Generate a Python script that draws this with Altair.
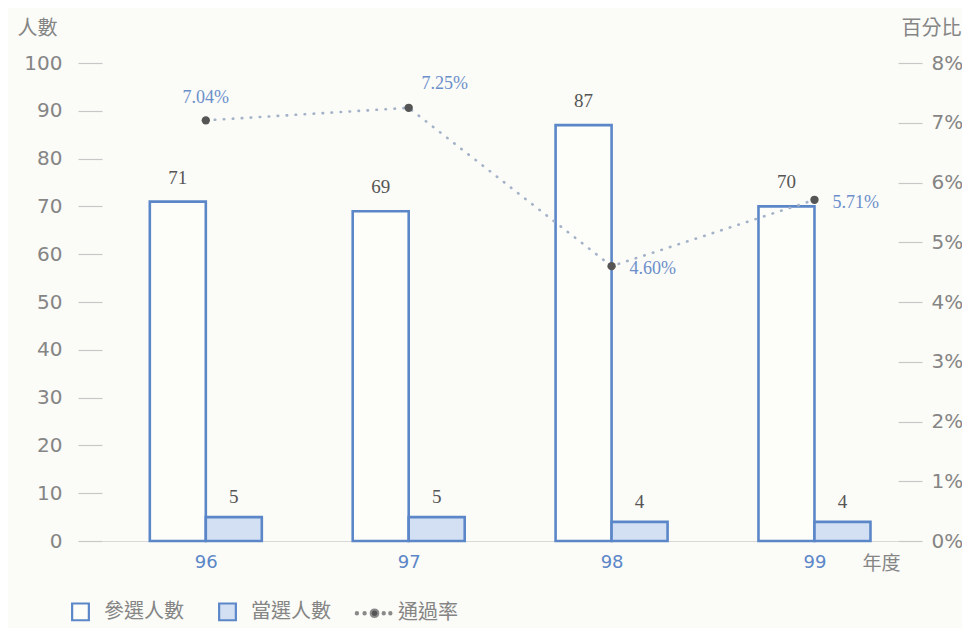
import altair as alt
import pandas as pd

# ---- data ----
years = [96, 97, 98, 99]
participants = [71, 69, 87, 70]
elected = [5, 5, 4, 4]
pass_rate = [7.04, 7.25, 4.60, 5.71]
rate_labels = ["7.04%", "7.25%", "4.60%", "5.71%"]
series_names = ["參選人數", "當選人數", "通過率"]
left_ticks = list(range(0, 101, 10))
right_ticks = list(range(0, 9))

# ---- styling ----
BG = "#fbfbf7"
BLUE = "#5b87c8"
LIGHT_BLUE = "#d3e0f3"
WHITE_FILL = "#fdfdfa"
GRAY = "#858585"
TICK = "#c8c8c8"
RATE_TXT = "#6b8fcb"
VAL_TXT = "#555555"
DOT = "#555555"
LINE = "#a3b2c8"
CJK = "Noto Sans CJK TC"
NUM = "DejaVu Sans"
SERIF = "Liberation Serif"

df_p = pd.DataFrame({"year": years, "value": participants, "series": series_names[0]})
df_e = pd.DataFrame({"year": years, "value": elected, "series": series_names[1]})
df_r = pd.DataFrame({"year": years, "rate": pass_rate, "label": rate_labels})
df_leg = pd.DataFrame({"series": series_names})

xscale = alt.Scale(domain=[95.513, 99.387], nice=False, zero=False)
yl_scale = alt.Scale(domain=[0, 100], nice=False)
yr_scale = alt.Scale(domain=[0, 8], nice=False)

x_axis = alt.Axis(
    values=years, format="d", title="年度", grid=False, ticks=False,
    domainColor="#d8d8d8", domainWidth=1.2,
    labelColor=BLUE, labelFont=NUM, labelFontSize=18, labelPadding=12,
    titleFont=CJK, titleFontSize=19, titleColor=GRAY, titleFontWeight="normal",
    titleX=779, titleY=22, titleAlign="center", titleBaseline="middle", titleAngle=0,
)
yl_axis = alt.Axis(
    values=left_ticks, orient="left", grid=False, domain=False,
    tickSize=24, tickColor=TICK, tickWidth=1.2,
    labelColor=GRAY, labelFont=NUM, labelFontSize=20, labelPadding=16,
    title="人數", titleFont=CJK, titleFontSize=20, titleColor=GRAY, titleFontWeight="normal",
    titleAngle=0, titleX=-65, titleY=-35, titleAlign="center", titleBaseline="middle",
)
yr_axis = alt.Axis(
    values=right_ticks, orient="right", grid=False, domain=False,
    tickSize=24, tickColor=TICK, tickWidth=1.2,
    labelExpr="datum.value + '%'",
    labelColor=GRAY, labelFont=NUM, labelFontSize=20, labelPadding=9,
    title="百分比", titleFont=CJK, titleFontSize=20, titleColor=GRAY, titleFontWeight="normal",
    titleAngle=0, titleX=33, titleY=-35, titleAlign="center", titleBaseline="middle",
)

X = alt.X("year:Q", scale=xscale, axis=x_axis)
YL = alt.Y("value:Q", scale=yl_scale, axis=yl_axis)

bar_p = alt.Chart(df_p).mark_bar(
    width=56, xOffset=-28, fill=WHITE_FILL, stroke=BLUE, strokeWidth=2.6
).encode(x=X, y=YL)

bar_e = alt.Chart(df_e).mark_bar(
    width=56, xOffset=28, fill=LIGHT_BLUE, stroke=BLUE, strokeWidth=2.6
).encode(x=X, y=YL)

txt_p = alt.Chart(df_p).mark_text(
    xOffset=-28, dy=-14, baseline="bottom", font=SERIF, fontSize=19, color=VAL_TXT
).encode(x=X, y=YL, text="value:Q")

txt_e = alt.Chart(df_e).mark_text(
    xOffset=28, dy=-10, baseline="bottom", font=SERIF, fontSize=19, color=VAL_TXT
).encode(x=X, y=YL, text="value:Q")

# legend symbols (custom paths)
SQ = "M-0.38,-0.38L0.38,-0.38L0.38,0.38L-0.38,0.38Z"
def circ(cx, r):
    return f"M{cx - r},0A{r},{r} 0 1,0 {cx + r},0A{r},{r} 0 1,0 {cx - r},0Z"
DOTS = circ(0.0, 0.17) + circ(-0.45, 0.05) + circ(-0.8, 0.05) + circ(0.42, 0.05) + circ(0.72, 0.05)

leg = alt.Legend(title=None, symbolOpacity=1)
legend_layer = alt.Chart(df_leg).mark_point(opacity=0, size=1936, filled=True).encode(
    x=alt.value(0), y=alt.value(0),
    fill=alt.Fill("series:N", scale=alt.Scale(domain=series_names, range=[WHITE_FILL, LIGHT_BLUE, DOT]), legend=leg),
    stroke=alt.Stroke("series:N", scale=alt.Scale(domain=series_names, range=[BLUE, BLUE, "#8a8a8a"]), legend=leg),
    shape=alt.Shape("series:N", scale=alt.Scale(domain=series_names, range=[SQ, SQ, DOTS]), legend=leg),
)

left = alt.layer(bar_p, bar_e, txt_p, txt_e, legend_layer)

YR = alt.Y("rate:Q", scale=yr_scale, axis=yr_axis)
line = alt.Chart(df_r).mark_line(
    strokeDash=[0.5, 8.5], strokeCap="round", strokeWidth=2.6, color=LINE
).encode(x=X, y=YR)
pts = alt.Chart(df_r).mark_circle(size=70, color=DOT, opacity=1).encode(x=X, y=YR)

rtxt_a = alt.Chart(df_r).transform_filter(alt.datum.year == 96).mark_text(
    dy=-22, align="center", baseline="middle", font=SERIF, fontSize=18, color=RATE_TXT
).encode(x=X, y=YR, text="label:N")
rtxt_b = alt.Chart(df_r).transform_filter(alt.datum.year == 97).mark_text(
    dx=36, dy=-24, align="center", baseline="middle", font=SERIF, fontSize=18, color=RATE_TXT
).encode(x=X, y=YR, text="label:N")
rtxt_c = alt.Chart(df_r).transform_filter(alt.datum.year >= 98).mark_text(
    dx=18, dy=3, align="left", baseline="middle", font=SERIF, fontSize=18, color=RATE_TXT
).encode(x=X, y=YR, text="label:N")

right = alt.layer(line, pts, rtxt_a, rtxt_b, rtxt_c)

chart = alt.layer(left, right).resolve_scale(y="independent").properties(
    width=796, height=478,
    autosize=alt.AutoSizeParams(type="none"),
    padding={"left": 94, "top": 55, "right": 64, "bottom": 87},
    background=BG,
).configure_view(stroke=None).configure_legend(
    orient="none", legendX=-45, legendY=525, direction="horizontal",
    symbolSize=1936, symbolStrokeWidth=2.2, labelFont=CJK, labelFontSize=20,
    labelColor=GRAY, labelOffset=0, columnPadding=20, padding=0,
)

chart.save("out.html", embed_options={"renderer": "svg", "actions": False})
